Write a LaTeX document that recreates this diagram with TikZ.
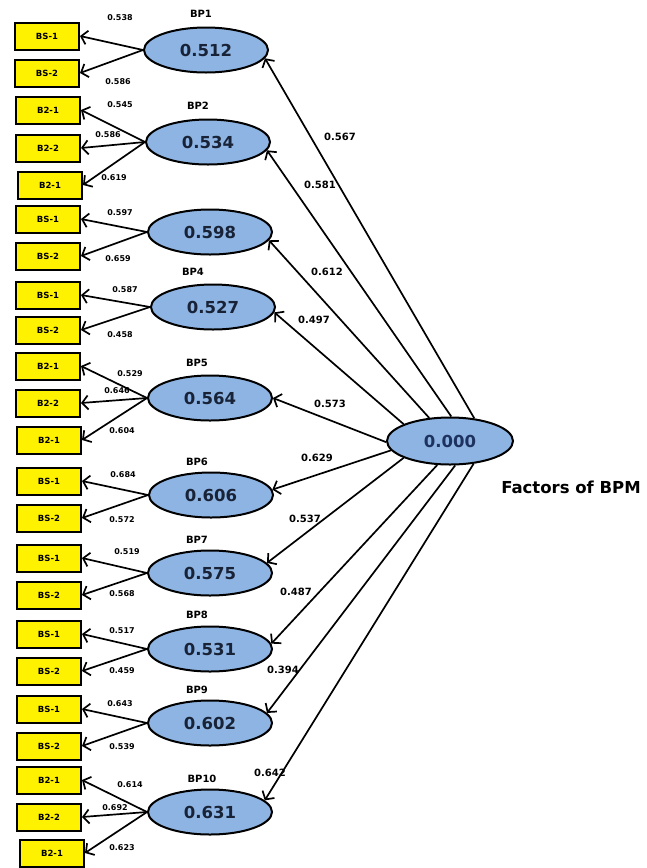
\documentclass[tikz,border=0pt]{standalone}
\usepackage{fontspec}
\setmainfont{DejaVu Sans}
\usetikzlibrary{shapes.geometric,arrows.meta}
\definecolor{ellblue}{RGB}{141,180,226}
\definecolor{numcol}{RGB}{25,35,55}
\definecolor{navycol}{RGB}{30,50,95}
\begin{document}
\begin{tikzpicture}[x=1pt,y=-1pt,
 lat/.style={ellipse,draw,line width=2pt,fill=ellblue,minimum width=124pt,minimum height=45pt,inner sep=0pt,font=\bfseries\fontsize{16.5}{18}\selectfont,text=numcol},
 ind/.style={rectangle,draw,line width=2pt,fill=yellow,minimum width=64pt,minimum height=27pt,inner sep=0pt,font=\bfseries\fontsize{8.5}{9}\selectfont},
 sl/.style={font=\bfseries\fontsize{8}{9}\selectfont,inner sep=0pt},
 bl/.style={font=\bfseries\fontsize{10}{11}\selectfont,inner sep=0pt},
 nm/.style={font=\bfseries\fontsize{10}{11}\selectfont,inner sep=0pt},
 arr/.style={line width=1.7pt,-{Straight Barb[length=6pt,width=14pt,line width=1.7pt]}},
]
\useasboundingbox (0,0) rectangle (647,868);
\fill[white] (0,0) rectangle (647,868);

% indicator boxes
\node[ind] (b1) at (47,36) {BS-1};
\node[ind] (b2) at (47,73) {BS-2};
\node[ind] (b3) at (48,110) {B2-1};
\node[ind] (b4) at (48,148) {B2-2};
\node[ind] (b5) at (50,185) {B2-1};
\node[ind] (b6) at (48,219) {BS-1};
\node[ind] (b7) at (48,256) {BS-2};
\node[ind] (b8) at (48,295) {BS-1};
\node[ind] (b9) at (48,330) {BS-2};
\node[ind] (b10) at (48,366) {B2-1};
\node[ind] (b11) at (48,403) {B2-2};
\node[ind] (b12) at (49,440) {B2-1};
\node[ind] (b13) at (49,481) {BS-1};
\node[ind] (b14) at (49,518) {BS-2};
\node[ind] (b15) at (49,558) {BS-1};
\node[ind] (b16) at (49,595) {BS-2};
\node[ind] (b17) at (49,634) {BS-1};
\node[ind] (b18) at (49,671) {BS-2};
\node[ind] (b19) at (49,709) {BS-1};
\node[ind] (b20) at (49,746) {BS-2};
\node[ind] (b21) at (49,780) {B2-1};
\node[ind] (b22) at (49,817) {B2-2};
\node[ind] (b23) at (52,853) {B2-1};

% latent ellipses
\node[lat] (p1) at (206,50) {0.512};
\node[lat] (p2) at (208,142) {0.534};
\node[lat] (p3) at (210,232) {0.598};
\node[lat] (p4) at (213,307) {0.527};
\node[lat] (p5) at (210,398) {0.564};
\node[lat] (p6) at (211,495) {0.606};
\node[lat] (p7) at (210,573) {0.575};
\node[lat] (p8) at (210,649) {0.531};
\node[lat] (p9) at (210,723) {0.602};
\node[lat] (p10) at (210,812) {0.631};
\node[lat,text=navycol,minimum width=126pt,minimum height=47pt] (c) at (450,441) {0.000};
\node[font=\bfseries\fontsize{16.5}{18}\selectfont,inner sep=0pt] (ft) at (571,487) {Factors of BPM};

% latent names
\node[nm] (n1) at (201,14) {BP1};
\node[nm] (n2) at (198,106) {BP2};
\node[nm] (n4) at (193,272) {BP4};
\node[nm] (n5) at (197,363) {BP5};
\node[nm] (n6) at (197,462) {BP6};
\node[nm] (n7) at (197,540) {BP7};
\node[nm] (n8) at (197,615) {BP8};
\node[nm] (n9) at (197,690) {BP9};
\node[nm] (n10) at (202,779) {BP10};

% loadings arrows (left)
\draw[arr] (p1.west) -- (b1.east);
\draw[arr] (p1.west) -- (b2.east);
\draw[arr] (p2.west) -- (b3.east);
\draw[arr] (p2.west) -- (b4.east);
\draw[arr] (p2.west) -- (b5.east);
\draw[arr] (p3.west) -- (b6.east);
\draw[arr] (p3.west) -- (b7.east);
\draw[arr] (p4.west) -- (b8.east);
\draw[arr] (p4.west) -- (b9.east);
\draw[arr] (p5.west) -- (b10.east);
\draw[arr] (p5.west) -- (b11.east);
\draw[arr] (p5.west) -- (b12.east);
\draw[arr] (p6.west) -- (b13.east);
\draw[arr] (p6.west) -- (b14.east);
\draw[arr] (p7.west) -- (b15.east);
\draw[arr] (p7.west) -- (b16.east);
\draw[arr] (p8.west) -- (b17.east);
\draw[arr] (p8.west) -- (b18.east);
\draw[arr] (p9.west) -- (b19.east);
\draw[arr] (p9.west) -- (b20.east);
\draw[arr] (p10.west) -- (b21.east);
\draw[arr] (p10.west) -- (b22.east);
\draw[arr] (p10.west) -- (b23.east);

% left loading labels
\node[sl] (s1) at (120,18) {0.538};
\node[sl] (s2) at (118,82) {0.586};
\node[sl] (s3) at (120,105) {0.545};
\node[sl] (s4) at (108,135) {0.586};
\node[sl] (s5) at (114,178) {0.619};
\node[sl] (s6) at (120,213) {0.597};
\node[sl] (s7) at (118,259) {0.659};
\node[sl] (s8) at (125,290) {0.587};
\node[sl] (s9) at (120,335) {0.458};
\node[sl] (s10) at (130,374) {0.529};
\node[sl] (s11) at (117,391) {0.646};
\node[sl] (s12) at (122,431) {0.604};
\node[sl] (s13) at (123,475) {0.684};
\node[sl] (s14) at (122,520) {0.572};
\node[sl] (s15) at (127,552) {0.519};
\node[sl] (s16) at (122,594) {0.568};
\node[sl] (s17) at (122,631) {0.517};
\node[sl] (s18) at (122,671) {0.459};
\node[sl] (s19) at (120,704) {0.643};
\node[sl] (s20) at (122,747) {0.539};
\node[sl] (s21) at (130,785) {0.614};
\node[sl] (s22) at (115,808) {0.692};
\node[sl] (s23) at (122,848) {0.623};

% structural arrows
\draw[arr] (c.43.6) -- (p1.-8);
\draw[arr] (c.87) -- (p2.-8);
\draw[arr] (c.132) -- (p3.-8);
\draw[arr] (c.160) -- (p4.-5);
\draw[arr] (c.181) -- (p5.0);
\draw[arr] (c.189) -- (p6.5);
\draw[arr] (c.200) -- (p7.10);
\draw[arr] (c.242) -- (p8.5);
\draw[arr] (c.282) -- (p9.10);
\draw[arr] (c.316) -- (p10.12);

\node[bl] (r1) at (340,137) {0.567};
\node[bl] (r2) at (320,185) {0.581};
\node[bl] (r3) at (327,272) {0.612};
\node[bl] (r4) at (314,320) {0.497};
\node[bl] (r5) at (330,404) {0.573};
\node[bl] (r6) at (317,458) {0.629};
\node[bl] (r7) at (305,519) {0.537};
\node[bl] (r8) at (296,592) {0.487};
\node[bl] (r9) at (283,670) {0.394};
\node[bl] (r10) at (270,773) {0.642};
\end{tikzpicture}
\end{document}
